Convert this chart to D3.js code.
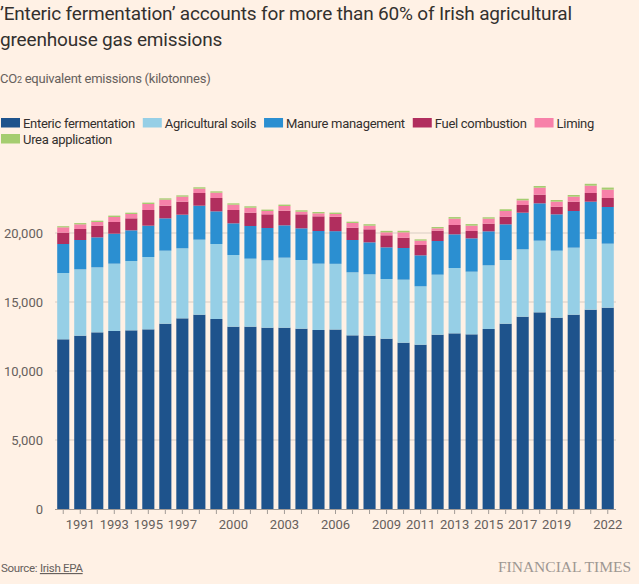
<!DOCTYPE html>
<html>
<head>
<meta charset="utf-8">
<script src="https://cdn.jsdelivr.net/npm/d3@7"></script>
<style>
  html, body { margin: 0; padding: 0; background: #fff1e5; }
  svg { display: block; }
  text { font-family: Roboto, "Noto Sans", sans-serif; }
</style>
</head>
<body>
<svg id="chart" width="639" height="584"></svg>
<script>
const years = [1990,1991,1992,1993,1994,1995,1996,1997,1998,1999,2000,2001,2002,2003,2004,2005,2006,2007,2008,2009,2010,2011,2012,2013,2014,2015,2016,2017,2018,2019,2020,2021,2022];
const enteric = [12297,12560,12802,12899,12947,13019,13430,13816,14082,13768,13213,13213,13140,13140,13068,12971,13007,12584,12560,12343,12053,11908,12633,12729,12657,13043,13430,13937,14251,13865,14082,14444,14589];
const soils = [4805,4807,4710,4879,5024,5242,5290,5073,5435,5435,5193,4927,4880,5073,4976,4807,4759,4566,4445,4324,4566,4228,4348,4735,4541,4614,4614,4880,5194,4855,4856,5122,4638];
const manure = [2101,2126,2174,2174,2223,2271,2343,2440,2464,2367,2295,2368,2343,2343,2295,2367,2367,2343,2319,2295,2294,2246,2440,2440,2416,2464,2584,2657,2705,2633,2657,2705,2657];
const fuel = [822,797,846,845,869,1135,918,942,918,967,966,966,990,1063,1014,1063,1039,894,942,869,749,749,748,676,531,556,556,555,628,556,676,628,653];
const liming = [386,338,265,363,314,435,435,362,314,386,387,362,242,338,193,217,205,338,266,218,387,314,170,459,387,362,411,339,507,362,362,531,604];
const urea = [80,90,95,100,95,100,95,95,100,95,95,100,100,100,100,95,100,95,105,105,110,95,95,115,115,100,125,115,120,120,120,135,150];

const seriesNames = ["Enteric fermentation","Agricultural soils","Manure management","Fuel combustion","Liming","Urea application"];
const seriesValues = [enteric, soils, manure, fuel, liming, urea];
const seriesColors = ["#1e538c","#96cfe6","#2b8fd1","#b12e5e","#f781a9","#a5cd70"];
const yTicks = [0,5000,10000,15000,20000];
const xLabelYears = [1991,1993,1995,1997,2000,2003,2006,2009,2011,2013,2015,2017,2019,2022];

const svg = d3.select("#chart");
const W = 639, H = 584;
svg.append("rect").attr("width", W).attr("height", H).attr("fill", "#fff1e5");

const keys = seriesNames.map((d, i) => "s" + i);
const rows = years.map((yr, j) => {
  const r = { year: yr };
  keys.forEach((k, i) => r[k] = seriesValues[i][j]);
  return r;
});
const stacked = d3.stack().keys(keys)(rows);

const x = d3.scaleBand().domain(years).range([55.5, 615.5]).paddingInner(0.29).paddingOuter(0.1);
const y = d3.scaleLinear().domain([0, 20000]).range([509, 233]);

// title
const title = svg.append("text").attr("x", 0).attr("fill", "#33302e")
  .style("font-size", "19px").style("letter-spacing", "-0.17px");
title.append("tspan").attr("x", 0).attr("y", 20).text("\u2019Enteric fermentation\u2019 accounts for more than 60% of Irish agricultural");
title.append("tspan").attr("x", 0).attr("y", 46).text("greenhouse gas emissions");

const sub = svg.append("text").attr("x", 0).attr("y", 83).attr("fill", "#66605c")
  .style("font-size", "13px").style("letter-spacing", "-0.25px");
sub.append("tspan").text("CO");
sub.append("tspan").style("font-size", "9px").text("2");
sub.append("tspan").text(" equivalent emissions (kilotonnes)");

// legend
const legendRows = [[0,1,2,3,4],[5]];
legendRows.forEach((row, ri) => {
  let cx = 1;
  const ly = 118 + ri * 16;
  row.forEach(i => {
    const g = svg.append("g");
    g.append("rect").attr("x", cx).attr("y", ly).attr("width", 19).attr("height", 9.5).attr("fill", seriesColors[i]);
    const t = g.append("text").attr("x", cx + 22).attr("y", ly + 9.5).attr("fill", "#33302e")
      .style("font-size", "13px").style("letter-spacing", "-0.3px").text(seriesNames[i]);
    cx += 22 + t.node().getComputedTextLength() + 8;
  });
});

// gridlines
svg.append("g").selectAll("line").data(yTicks.filter(d => d > 0)).join("line")
  .attr("x1", 55).attr("x2", 616).attr("y1", d => y(d)).attr("y2", d => y(d))
  .attr("stroke", "#d9cdc3").attr("stroke-width", 1);

// y axis labels
const yAxis = d3.axisLeft(y).tickValues(yTicks).tickSize(0).tickPadding(0).tickFormat(d3.format(","));
const yg = svg.append("g").attr("transform", "translate(43,0)").call(yAxis);
yg.select(".domain").remove();
yg.selectAll("text").attr("fill", "#66605c").style("font-size", "13px").style("font-family", "Roboto, 'Noto Sans', sans-serif");

// bars
svg.append("g").selectAll("g").data(stacked).join("g")
  .attr("fill", (d, i) => seriesColors[i])
  .selectAll("rect").data(d => d).join("rect")
  .attr("x", d => x(d.data.year))
  .attr("width", x.bandwidth())
  .attr("y", d => y(d[1]))
  .attr("height", d => y(d[0]) - y(d[1]));

// x axis
const xAxis = d3.axisBottom(x).tickSize(5).tickPadding(6)
  .tickFormat(d => xLabelYears.includes(d) ? d : "");
const xg = svg.append("g").attr("transform", "translate(0,509)").call(xAxis);
xg.select(".domain").attr("d", "M55,0.5H616").attr("stroke", "#a39c97");
xg.selectAll(".tick line").attr("stroke", "#a39c97");
xg.selectAll("text").attr("fill", "#66605c").style("font-size", "13px").style("font-family", "Roboto, 'Noto Sans', sans-serif");

// footer
const src = svg.append("text").attr("x", 1).attr("y", 572).attr("fill", "#66605c")
  .style("font-size", "11.5px").style("letter-spacing", "-0.3px");
src.append("tspan").text("Source: ");
src.append("tspan").attr("text-decoration", "underline").text("Irish EPA");

svg.append("text").attr("x", 631).attr("y", 572).attr("text-anchor", "end")
  .attr("fill", "#9e9792").style("font-family", "'Liberation Serif', 'DejaVu Serif', serif")
  .style("font-size", "15.5px").text("FINANCIAL TIMES");
</script>
</body>
</html>
